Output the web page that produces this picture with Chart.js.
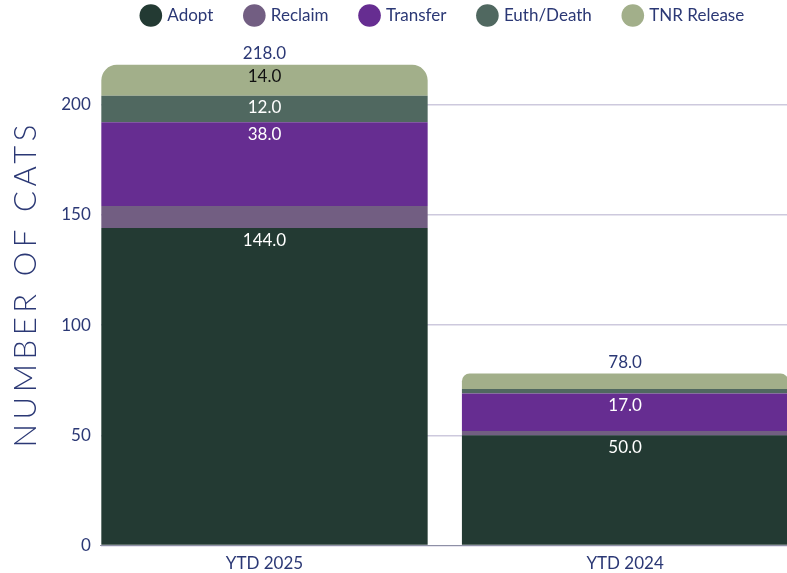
<!DOCTYPE html>
<html>
<head>
<meta charset="utf-8">
<script src="https://cdn.jsdelivr.net/npm/chart.js@4.4.1/dist/chart.umd.min.js"></script>
<style>
  html, body { margin: 0; padding: 0; background: #ffffff; overflow: hidden; }
  #wrap { width: 787px; height: 573px; position: relative; }
</style>
</head>
<body>
<div id="wrap"><canvas id="catChart"></canvas></div>
<script>
// ======================================================
// Data
// ======================================================

const categories = ["YTD 2025", "YTD 2024"];

const adopt = [144, 50];
const reclaim = [10, 2];
const transfer = [38, 17];
const euthDeath = [12, 2];
const tnrRelease = [14, 7];

const yTicks = [0, 50, 100, 150, 200];

const navy = "#2b3875";

// ======================================================
// Helpers
// ======================================================

function points(values) {
    return values.map((v, i) => ({ x: i, y: v }));
}

function makeDataset(label, values, color, extra) {
    return Object.assign({
        label: label,
        data: points(values),
        backgroundColor: color,
        borderWidth: 0,
        stack: "cats",
        barPercentage: 0.905,
        categoryPercentage: 1
    }, extra || {});
}

// value labels drawn on the segments, and totals above the stacks
const valueLabels = {
    id: "valueLabels",
    afterDatasetsDraw(chart) {
        const ctx = chart.ctx;
        ctx.save();
        ctx.font = "17px Lato";
        ctx.textAlign = "center";
        ctx.textBaseline = "middle";
        const last = chart.data.datasets.length - 1;
        chart.data.datasets.forEach((ds, di) => {
            const meta = chart.getDatasetMeta(di);
            meta.data.forEach((bar, i) => {
                const v = ds.data[i].y;
                if (v > 10) {
                    ctx.fillStyle = di === last ? "#111111" : "#ffffff";
                    ctx.fillText(v.toFixed(1), bar.x, bar.y + 12);
                }
                if (di === last) {
                    const total = chart.data.datasets.reduce((s, d) => s + d.data[i].y, 0);
                    ctx.fillStyle = navy;
                    ctx.fillText(total.toFixed(1), bar.x, bar.y - 11);
                }
            });
        });
        ctx.restore();
    }
};

// move the legend row to the right, over the bars;
// and space out the letters of the y axis title
const layoutTweaks = {
    id: "layoutTweaks",
    afterLayout(chart) {
        const lg = chart.legend;
        if (lg) {
            lg.left += 50;
            lg.right += 50;
        }
        const y = chart.scales.y;
        if (y && !y._spaced) {
            const orig = y.drawTitle;
            y.drawTitle = function () {
                this.ctx.save();
                this.ctx.letterSpacing = "4.6px";
                this.ctx.translate(0, -6);
                orig.call(this);
                this.ctx.restore();
            };
            y._spaced = true;
        }
    }
};

// ======================================================
// Chart
// ======================================================

new Chart(document.querySelector("#catChart"), {

    type: "bar",

    data: {
        datasets: [
            makeDataset("Adopt", adopt, "#233a33"),
            makeDataset("Reclaim", reclaim, "#725e82"),
            makeDataset("Transfer", transfer, "#662d91"),
            makeDataset("Euth/Death", euthDeath, "#506860"),
            makeDataset("TNR Release", tnrRelease, "#a2af8a", {
                borderRadius: { topLeft: 22, topRight: 22, bottomLeft: 0, bottomRight: 0 },
                borderSkipped: "start"
            })
        ]
    },

    options: {
        responsive: true,
        maintainAspectRatio: false,
        animation: false,
        layout: {
            padding: { top: -26, bottom: -1, left: 0, right: 0 }
        },
        plugins: {
            legend: {
                position: "top",
                labels: {
                    usePointStyle: true,
                    pointStyle: "circle",
                    boxWidth: 16,
                    boxHeight: 16,
                    padding: 33,
                    color: navy,
                    font: { family: "Lato", size: 17 }
                }
            },
            tooltip: { enabled: false }
        },
        scales: {
            x: {
                type: "linear",
                offset: false,
                min: -0.454,
                max: 1.449,
                afterBuildTicks(scale) {
                    scale.ticks = categories.map((c, i) => ({ value: i }));
                },
                grid: { display: false },
                border: { display: true, color: "#8e90a6", width: 1 },
                ticks: {
                    padding: 0,
                    color: navy,
                    font: { family: "Lato", size: 17 },
                    callback: (v) => categories[v]
                }
            },
            y: {
                stacked: true,
                min: 0,
                max: 232,
                afterBuildTicks(scale) {
                    scale.ticks = yTicks.map((v) => ({ value: v }));
                },
                border: { display: false },
                grid: {
                    color: "#cdc9dd",
                    lineWidth: 1.5,
                    drawTicks: false
                },
                ticks: {
                    padding: 10,
                    color: navy,
                    font: { family: "Lato", size: 17 }
                },
                title: {
                    display: true,
                    text: "NUMBER OF CATS",
                    color: navy,
                    padding: { top: 7, bottom: 7 },
                    font: { family: "Lato", size: 31, weight: "300" }
                }
            }
        }
    },

    plugins: [valueLabels, layoutTweaks]

});
</script>
</body>
</html>
